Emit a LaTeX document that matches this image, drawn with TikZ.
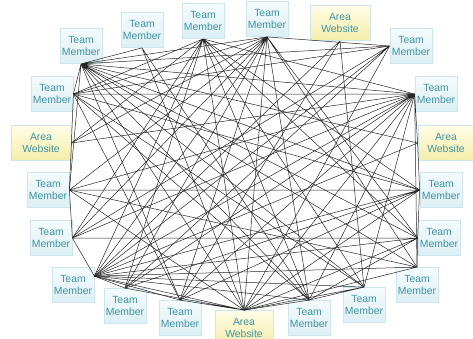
\documentclass[tikz,border=0pt]{standalone}
\usepackage{fontspec}
\setmainfont{Liberation Sans}
\usepackage{tikz}
\definecolor{tmtop}{RGB}{245,251,253}
\definecolor{tmbot}{RGB}{220,239,245}
\definecolor{awtop}{RGB}{255,253,230}
\definecolor{awbot}{RGB}{243,237,170}
\definecolor{boxline}{RGB}{206,231,238}
\definecolor{labtext}{RGB}{64,148,162}
\tikzset{
  box/.style={draw=boxline,line width=0.8pt,inner sep=0pt,minimum height=35pt,align=center,text=labtext,font=\fontsize{10.4}{12}\selectfont},
  tm/.style={box,top color=tmtop,bottom color=tmbot,minimum width=42pt},
  aw/.style={box,top color=awtop,bottom color=awbot,minimum width=58pt},
  link/.style={draw=black!85,line width=0.5pt},
}
\begin{document}
\begin{tikzpicture}[x=1pt,y=-1pt]
  \useasboundingbox (0,0) rectangle (473,338);
  % boxes, clockwise from the top left
  \node[tm] (t1) at (81,46) {Team\\Member};
  \node[tm] (t2) at (142,30) {Team\\Member};
  \node[tm] (t3) at (203,21) {Team\\Member};
  \node[tm] (t4) at (267,19) {Team\\Member};
  \node[aw,minimum width=60pt] (t5) at (340,23) {Area\\Website};
  \node[tm] (t6) at (411,46) {Team\\Member};
  \node[tm] (t7) at (436,94) {Team\\Member};
  \node[aw,minimum width=56pt] (t8) at (446,143) {Area\\Website};
  \node[tm] (t9) at (441,190) {Team\\Member};
  \node[tm] (t10) at (439,238) {Team\\Member};
  \node[tm] (t11) at (417,285) {Team\\Member};
  \node[tm] (t12) at (364,305) {Team\\Member};
  \node[tm] (t13) at (309,318) {Team\\Member};
  \node[aw] (t14) at (244,328) {Area\\Website};
  \node[tm] (t15) at (180,318) {Team\\Member};
  \node[tm] (t16) at (125,306) {Team\\Member};
  \node[tm] (t17) at (73,285) {Team\\Member};
  \node[tm] (t18) at (51,238) {Team\\Member};
  \node[tm] (t19) at (48,190) {Team\\Member};
  \node[aw,minimum width=60pt] (t20) at (41,143) {Area\\Website};
  \node[tm] (t21) at (52,94) {Team\\Member};
  % where the lines meet each box
  \coordinate (c1) at (t1.south);
  \coordinate (c2) at (t2.south);
  \coordinate (c3) at (t3.south);
  \coordinate (c4) at (t4.south);
  \coordinate (c5) at (t5.south);
  \coordinate (c6) at (t6.west);
  \coordinate (c7) at (t7.west);
  \coordinate (c8) at (t8.west);
  \coordinate (c9) at (t9.west);
  \coordinate (c10) at (t10.west);
  \coordinate (c11) at (t11.north);
  \coordinate (c12) at (t12.north);
  \coordinate (c13) at (t13.north);
  \coordinate (c14) at (t14.north);
  \coordinate (c15) at (t15.north);
  \coordinate (c16) at (t16.north);
  \coordinate (c17) at ([yshift=-9pt]t17.north east);
  \coordinate (c18) at (t18.east);
  \coordinate (c19) at (t19.east);
  \coordinate (c20) at (t20.east);
  \coordinate (c21) at (t21.east);
  % everybody talks to everybody
  \draw[link] (c1) -- (c2) (c1) -- (c4) (c1) -- (c6) (c1) -- (c7) (c1) -- (c8) (c1) -- (c9) (c1) -- (c10)
    (c1) -- (c11) (c1) -- (c12) (c1) -- (c13) (c1) -- (c14) (c1) -- (c15) (c1) -- (c19) (c1) -- (c21);
  \draw[link] (c2) -- (c13) (c2) -- (c14);
  \draw[link] (c3) -- (c7) (c3) -- (c9) (c3) -- (c10) (c3) -- (c12) (c3) -- (c13) (c3) -- (c14)
    (c3) -- (c16) (c3) -- (c17) (c3) -- (c18) (c3) -- (c20) (c3) -- (c21);
  \draw[link] (c4) -- (c6) (c4) -- (c10) (c4) -- (c11) (c4) -- (c13) (c4) -- (c14) (c4) -- (c15)
    (c4) -- (c16) (c4) -- (c17) (c4) -- (c18) (c4) -- (c19) (c4) -- (c20) (c4) -- (c21);
  \draw[link] (c5) -- (c12) (c5) -- (c15) (c5) -- (c17);
  \draw[link] (c6) -- (c14) (c6) -- (c16) (c6) -- (c17) (c6) -- (c18) (c6) -- (c21);
  \draw[link] (c7) -- (c8) (c7) -- (c11) (c7) -- (c12) (c7) -- (c13) (c7) -- (c14) (c7) -- (c15)
    (c7) -- (c16) (c7) -- (c17) (c7) -- (c18) (c7) -- (c19) (c7) -- (c20) (c7) -- (c21);
  \draw[link] (c8) -- (c9) (c8) -- (c17);
  \draw[link] (c9) -- (c10) (c9) -- (c14) (c9) -- (c15) (c9) -- (c16) (c9) -- (c17) (c9) -- (c19) (c9) -- (c21);
  \draw[link] (c10) -- (c11) (c10) -- (c13) (c10) -- (c14) (c10) -- (c17) (c10) -- (c18);
  \draw[link] (c11) -- (c14) (c11) -- (c17) (c11) -- (c19);
  \draw[link] (c12) -- (c13) (c12) -- (c14) (c12) -- (c17) (c12) -- (c21);
  \draw[link] (c13) -- (c14) (c13) -- (c17) (c13) -- (c21);
  \draw[link] (c14) -- (c15) (c14) -- (c16) (c14) -- (c17) (c14) -- (c19);
  \draw[link] (c15) -- (c17) (c15) -- (c21);
  \draw[link] (c16) -- (c17);
  \draw[link] (c17) -- (c18) (c18) -- (c19) (c19) -- (c20) (c20) -- (c21);
\end{tikzpicture}
\end{document}
